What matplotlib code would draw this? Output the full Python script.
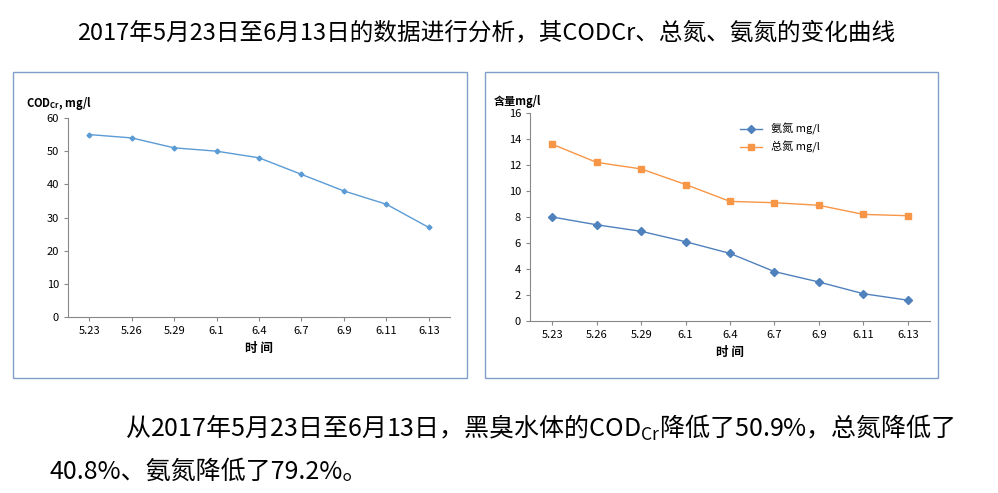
import matplotlib.pyplot as plt
from matplotlib.patches import Rectangle

plt.rcParams['font.family'] = ['Noto Sans CJK SC', 'DejaVu Sans']

dates = ['5.23', '5.26', '5.29', '6.1', '6.4', '6.7', '6.9', '6.11', '6.13']
cod = [55, 54, 51, 50, 48, 43, 38, 34, 27]
nh3n = [8.0, 7.4, 6.9, 6.1, 5.2, 3.8, 3.0, 2.1, 1.6]
tn = [13.6, 12.2, 11.7, 10.5, 9.2, 9.1, 8.9, 8.2, 8.1]

W, H = 998, 493
fig = plt.figure(figsize=(W / 100, H / 100), dpi=100)

def box(x0, y0, x1, y1):
    fig.patches.append(Rectangle((x0 / W, 1 - y1 / H), (x1 - x0) / W, (y1 - y0) / H,
                                 transform=fig.transFigure, fill=False,
                                 edgecolor='#7f9fc8', lw=1))

def axes(x0, y0, x1, y1):
    return fig.add_axes([x0 / W, 1 - y1 / H, (x1 - x0) / W, (y1 - y0) / H])

fig.text(0.487, 1 - 33 / H, '2017年5月23日至6月13日的数据进行分析，其CODCr、总氮、氨氮的变化曲线',
         ha='center', va='center', fontsize=17)

box(13, 72, 467, 378)
box(485, 72, 938, 378)

x = list(range(len(dates)))

ax1 = axes(68, 118, 450, 317)
ax1.plot(x, cod, color='#5b9bd5', lw=1, marker='D', ms=2.5)
ax1.set_ylim(0, 60)
ax1.set_yticks(range(0, 61, 10))
ax1.set_xlim(-0.5, len(dates) - 0.5)
ax1.set_xticks(x)
ax1.set_xticklabels(dates)
ax1.set_title(r'COD$_{\mathregular{Cr}}$, mg/l', loc='left', x=-0.11, fontsize=8, fontweight='bold', pad=8)
ax1.set_xlabel('时 间', fontsize=9, fontweight='bold')

ax2 = axes(530, 113, 930, 321)
ax2.plot(x, nh3n, color='#4f81bd', lw=1, marker='D', ms=4, label='氨氮 mg/l')
ax2.plot(x, tn, color='#f79646', lw=1, marker='s', ms=5, label='总氮 mg/l')
ax2.set_ylim(0, 16)
ax2.set_yticks(range(0, 17, 2))
ax2.set_xlim(-0.5, len(dates) - 0.5)
ax2.set_xticks(x)
ax2.set_xticklabels(dates)
ax2.set_title('含量mg/l', loc='left', x=-0.09, fontsize=8, fontweight='bold', pad=6)
ax2.set_xlabel('时 间', fontsize=9, fontweight='bold')
ax2.legend(loc='upper left', bbox_to_anchor=(0.5, 1.0), frameon=False, fontsize=8)

for ax in (ax1, ax2):
    for s in ('top', 'right'):
        ax.spines[s].set_visible(False)
    for s in ('left', 'bottom'):
        ax.spines[s].set_color('#888888')
    ax.tick_params(labelsize=8, length=3, color='#888888')

fig.text(125 / W, 1 - 428 / H, '从2017年5月23日至6月13日，黑臭水体的COD$_{\\mathregular{Cr}}$降低了50.9%，总氮降低了',
         va='center', fontsize=18)
fig.text(50 / W, 1 - 472 / H, '40.8%、氨氮降低了79.2%。', va='center', fontsize=18)

fig.savefig('out.png', dpi=100)
